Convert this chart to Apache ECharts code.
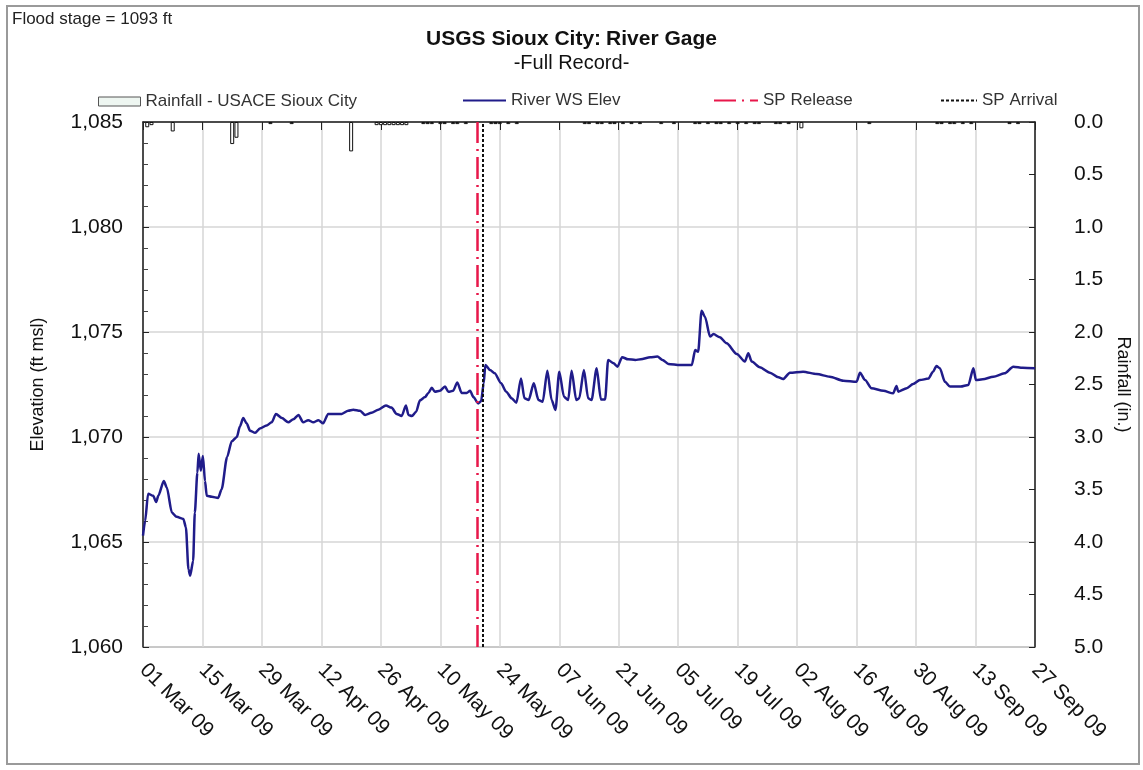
<!DOCTYPE HTML>
<html>
	<head>
		<meta http-equiv="Content-type" content="text/html; charset=UTF-8" />
		<script type="text/javascript" src="https://cdn.jsdelivr.net/npm/echarts@6/dist/echarts.min.js"></script>
		<style>
			html, body { margin: 0; padding: 0; background: #fff; }
		</style>
		<script type="text/javascript">
			// x axis = days since 01 Mar 09
			var tickLabels = ['01 Mar 09', '15 Mar 09', '29 Mar 09', '12 Apr 09', '26 Apr 09', '10 May 09',
				'24 May 09', '07 Jun 09', '21 Jun 09', '05 Jul 09', '19 Jul 09', '02 Aug 09',
				'16 Aug 09', '30 Aug 09', '13 Sep 09', '27 Sep 09'];

			// river water surface elevation (ft msl)
			var elevDays = [
				0, 0.5, 1.2, 2.4, 3.1, 3.6, 4.9, 5.6, 6.8, 7.9,
				9.5, 10.1, 10.7, 11.1, 11.8, 12.2, 12.8, 13.1, 13.6, 14.1,
				14.6, 15.0, 16.2, 17.7, 18.5, 19.8, 20.9, 22.1, 22.8, 23.6,
				24.4, 25.2, 26.4, 27.5, 29.1, 30.3, 31.3, 32.7, 34.2, 35.4,
				36.6, 37.7, 38.9, 40.1, 41.3, 42.4, 43.6, 45.2, 46.8, 48.3,
				49.5, 51.1, 52.3, 53.8, 55.4, 57.2, 58.5, 59.7, 60.9, 61.9,
				62.5, 63.3, 64.3, 65.2, 66.4, 67.2, 68.0, 68.7, 69.9, 71.1,
				71.9, 73.0, 74.0, 75.0, 76.2, 77.0, 77.8, 78.9, 79.6, 80.2,
				80.6, 81.7, 82.8, 84.3, 85.5, 86.8, 87.9, 89.0, 89.8, 90.8,
				92.0, 93.1, 94.1, 95.2, 96.2, 97.1, 98.0, 99.1, 100.1, 100.9,
				102.0, 102.7, 103.8, 104.8, 105.6, 106.8, 107.8, 108.8, 109.5, 110.8,
				111.7, 112.8, 114.2, 115.9, 117.2, 119.4, 121.1, 122.3, 123.7, 126.4,
				129.2, 130.0, 130.7, 131.5, 132.3, 133.5, 134.3, 135.8, 137.4, 139.8,
				141.7, 142.5, 143.3, 145.2, 147.6, 149.6, 150.7, 152.3, 155.4, 158.6,
				161.7, 164.9, 168.0, 168.8, 170.0, 171.5, 174.3, 176.6, 177.4, 177.8,
				179.8, 181.3, 182.9, 184.9, 186.0, 186.8, 187.6, 188.8, 190.0, 192.5,
				194.3, 195.5, 196.1, 197.7, 200.2, 202.8, 204.9, 207.1, 210
			];
			var elevValues = [
				1065.3, 1066.0, 1067.3, 1067.2, 1066.9, 1067.2, 1067.9, 1067.6, 1066.4, 1066.2,
				1066.1, 1065.7, 1063.7, 1063.4, 1064.1, 1066.4, 1068.3, 1069.2, 1068.4, 1069.1,
				1067.9, 1067.2, 1067.15, 1067.1, 1067.5, 1069.05, 1069.8, 1070.0, 1070.5, 1070.9,
				1070.65, 1070.3, 1070.2, 1070.4, 1070.55, 1070.7, 1071.1, 1070.9, 1070.7, 1070.85,
				1071.05, 1070.7, 1070.8, 1070.7, 1070.8, 1070.65, 1071.1, 1071.1, 1071.1, 1071.25,
				1071.3, 1071.25, 1071.05, 1071.15, 1071.3, 1071.5, 1071.4, 1071.1, 1071.0, 1071.5,
				1071.05, 1071.0, 1071.2, 1071.75, 1071.9, 1072.1, 1072.35, 1072.15, 1072.2, 1072.4,
				1072.15, 1072.2, 1072.6, 1072.1, 1072.1, 1072.2, 1071.9, 1071.6, 1071.7, 1072.55,
				1073.43, 1073.19, 1073.03, 1072.56, 1072.16, 1071.84, 1071.63, 1072.79, 1071.84, 1071.76,
				1072.56, 1071.76, 1071.68, 1073.16, 1071.76, 1071.29, 1073.11, 1071.92, 1071.76, 1073.16,
				1071.76, 1071.84, 1073.19, 1071.84, 1071.76, 1073.27, 1071.79, 1071.79, 1073.67, 1073.51,
				1073.35, 1073.8, 1073.7, 1073.67, 1073.7, 1073.8, 1073.83, 1073.67, 1073.48, 1073.43,
				1073.43, 1074.14, 1074.06, 1076.01, 1075.73, 1074.78, 1074.9, 1074.75, 1074.46, 1073.95,
				1073.59, 1073.99, 1073.59, 1073.32, 1073.06, 1072.84, 1072.76, 1073.06, 1073.11, 1073.0,
				1072.87, 1072.68, 1072.63, 1073.06, 1072.71, 1072.32, 1072.2, 1072.08, 1072.43, 1072.16,
				1072.32, 1072.52, 1072.71, 1072.78, 1073.11, 1073.38, 1073.27, 1072.63, 1072.4, 1072.4,
				1072.48, 1073.27, 1072.71, 1072.75, 1072.87, 1073.03, 1073.35, 1073.3, 1073.27
			];

			// daily rainfall (in.)
			var rainDays = [
				1, 2, 7, 21, 22, 30, 35, 49,
				55, 56, 57, 58, 59, 60, 61, 62,
				66, 67, 68, 70, 71, 73, 74, 76,
				82, 83, 84, 86, 88,
				104, 105, 107, 108, 110, 111, 113, 115, 117,
				122, 125,
				130, 131, 133, 135, 136, 138, 140, 142, 144, 145,
				149, 150, 152, 155,
				171,
				187, 188, 190, 191, 193, 195,
				204, 206
			];
			var rainValues = [
				0.05, 0.03, 0.09, 0.21, 0.15, 0.02, 0.02, 0.28,
				0.03, 0.03, 0.03, 0.03, 0.03, 0.03, 0.03, 0.03,
				0.02, 0.02, 0.02, 0.02, 0.02, 0.02, 0.02, 0.02,
				0.02, 0.02, 0.02, 0.02, 0.02,
				0.02, 0.02, 0.02, 0.02, 0.02, 0.02, 0.02, 0.02, 0.02,
				0.02, 0.02,
				0.02, 0.02, 0.02, 0.02, 0.02, 0.02, 0.02, 0.02, 0.02, 0.02,
				0.02, 0.02, 0.02, 0.06,
				0.02,
				0.02, 0.02, 0.02, 0.02, 0.02, 0.02,
				0.02, 0.02
			];

			var releaseDay = 78.6;   // SP Release, 18 May
			var arrivalDay = 80.0;   // SP Arrival, 20 May

			function pairs(xs, ys) {
				var out = [];
				for (var i = 0; i < xs.length; i++) out.push([xs[i], ys[i]]);
				return out;
			}

			var font = 'Liberation Sans, Arial, sans-serif';
			var legendText = { fontSize: 17, color: '#333' };
			// line legends: draw only the line, no marker
			var noMarker = { color: 'transparent', borderColor: 'transparent', borderWidth: 0 };

			var option = {
				backgroundColor: '#fff',
				animation: false,
				textStyle: { fontFamily: font },
				title: {
					left: 'center',
					top: 24,
					itemGap: 3,
					text: '{b|USGS Sioux City:} {n|River Gage}',
					textStyle: {
						rich: {
							b: { fontSize: 21, fontWeight: 'bold', color: '#111', fontFamily: font },
							n: { fontSize: 21, color: '#111', fontFamily: font }
						}
					},
					subtext: '-Full Record-',
					subtextStyle: { fontSize: 20, color: '#111', fontFamily: font }
				},
				legend: [
					{ data: ['Rainfall - USACE Sioux City'], left: 93, top: 88, icon: 'rect',
						itemWidth: 42, itemHeight: 9, itemGap: 4,
						itemStyle: { color: '#eef6f1', borderColor: '#555', borderWidth: 1 },
						textStyle: legendText },
					{ data: ['River WS Elev'], left: 457, top: 87, itemWidth: 43, itemGap: 4,
						itemStyle: noMarker, textStyle: legendText },
					{ data: ['SP Release'], left: 708, top: 87, itemWidth: 44, itemGap: 4,
						itemStyle: noMarker, textStyle: legendText },
					{ data: ['SP Arrival'], left: 935, top: 87, itemWidth: 36, itemGap: 3,
						itemStyle: noMarker, textStyle: legendText }
				],
				grid: {
					left: 143, right: 108, top: 122, bottom: 123,
					show: true, borderColor: '#444', borderWidth: 1, backgroundColor: '#fff'
				},
				xAxis: {
					type: 'value',
					min: 0, max: 210, interval: 14,
					axisLine: { show: true, lineStyle: { color: '#222', width: 1.5 } },
					axisTick: { show: true, length: 8, lineStyle: { color: '#222' } },
					splitLine: { show: true, lineStyle: { color: '#d6d6d6', width: 1.5 } },
					axisLabel: {
						rotate: -45, fontSize: 21, color: '#111', margin: 20,
						formatter: function (v) { return tickLabels[Math.round(v / 14)]; }
					}
				},
				yAxis: [
					{
						type: 'value', min: 1060, max: 1085, interval: 5,
						name: 'Elevation (ft msl)', nameLocation: 'middle', nameGap: 96, nameRotate: 90,
						nameTextStyle: { fontSize: 18, color: '#111' },
						axisLine: { show: true, lineStyle: { color: '#222', width: 1.5 } },
						axisTick: { show: true, inside: true, length: 6, lineStyle: { color: '#222' } },
						minorTick: { show: true, splitNumber: 5, length: 5, lineStyle: { color: '#444' } },
						splitLine: { show: true, lineStyle: { color: '#d6d6d6', width: 1.5 } },
						axisLabel: {
							fontSize: 21, color: '#111', margin: 20,
							formatter: function (v) { return String(v).replace(/(\d)(\d{3})$/, '$1,$2'); }
						}
					},
					{
						type: 'value', min: 0, max: 5, interval: 0.5, inverse: true, position: 'right',
						name: 'Rainfall (in.)', nameLocation: 'middle', nameGap: 60, nameRotate: -90,
						nameTextStyle: { fontSize: 18, color: '#111' },
						axisLine: { show: true, lineStyle: { color: '#222', width: 1.5 } },
						axisTick: { show: true, inside: true, length: 6, lineStyle: { color: '#222' } },
						splitLine: { show: false },
						axisLabel: {
							fontSize: 21, color: '#111', margin: 39,
							formatter: function (v) { return v.toFixed(1); }
						}
					}
				],
				series: [
					{
						name: 'Rainfall - USACE Sioux City',
						type: 'bar',
						yAxisIndex: 1,
						barWidth: 4,
						itemStyle: { color: '#fff', borderColor: '#111', borderWidth: 1 },
						data: pairs(rainDays, rainValues)
					},
					{
						name: 'River WS Elev',
						type: 'line',
						symbol: 'none',
						smooth: 0.25,
						smoothMonotone: 'x',
						color: '#201c8a',
						lineStyle: { color: '#201c8a', width: 2.5 },
						data: pairs(elevDays, elevValues)
					},
					{
						name: 'SP Release',
						type: 'line',
						symbol: 'none',
						color: '#e8174a',
						lineStyle: { color: '#e8174a', width: 2.5, type: [22, 6, 2, 6] },
						data: [],
						markLine: {
							silent: true, symbol: 'none', label: { show: false },
							lineStyle: { color: '#e8174a', width: 2.5, type: [22, 6, 2, 6] },
							data: [{ xAxis: releaseDay }]
						}
					},
					{
						name: 'SP Arrival',
						type: 'line',
						symbol: 'none',
						color: '#111',
						lineStyle: { color: '#111', width: 2, type: [3, 2] },
						data: [],
						markLine: {
							silent: true, symbol: 'none', label: { show: false },
							lineStyle: { color: '#111', width: 2, type: [3, 2] },
							data: [{ xAxis: arrivalDay }]
						}
					}
				],
				graphic: [
					{
						type: 'rect', silent: true, z: -1,
						shape: { x: 7, y: 6, width: 1132, height: 758 },
						style: { fill: 'none', stroke: '#9a9a9a', lineWidth: 2 }
					},
					{
						type: 'text', left: 12, top: 11,
						style: { text: 'Flood stage = 1093 ft', fontSize: 17, fill: '#222', fontFamily: font }
					}
				]
			};

			window.onload = function () {
				var myChart = echarts.init(document.getElementById('div_1'));
				myChart.setOption(option);
			};
		</script>
	</head>
	<body>
		<div id="div_1" style="width: 1143px;height:770px;"></div>
	</body>
</html>
